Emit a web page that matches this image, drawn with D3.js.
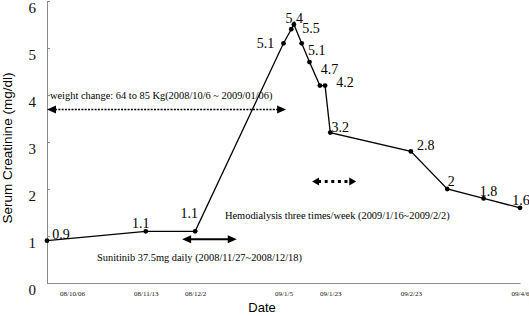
<!DOCTYPE html>
<html>
<head>
<meta charset="utf-8">
<script src="https://cdn.jsdelivr.net/npm/d3@7"></script>
<style>
  html, body { margin: 0; padding: 0; background: #fff; }
  svg { display: block; }
</style>
</head>
<body>
<div id="chart"></div>
<script>
// ── Data ─────────────────────────────────────────────
const obsDates = ["2008-10-06", "2008-11-13", "2008-12-02", "2009-01-05", "2009-01-08",
  "2009-01-09", "2009-01-12", "2009-01-15", "2009-01-19", "2009-01-21", "2009-01-23",
  "2009-02-23", "2009-03-09", "2009-03-23", "2009-04-06"];
const creatinine = [0.9, 1.1, 1.1, 5.1, 5.4, 5.5, 5.1, 4.7, 4.2, 4.2, 3.2, 2.8, 2, 1.8, 1.6];
const showLabel = [1, 1, 1, 1, 1, 1, 1, 1, 0, 1, 1, 1, 1, 1, 1];

const tickDates = ["2008-10-06", "2008-11-13", "2008-12-02", "2009-01-05", "2009-01-23", "2009-02-23", "2009-04-06"];
const tickLabels = ["08/10/06", "08/11/13", "08/12/2", "09/1/5", "09/1/23", "09/2/23", "09/4/6"];
const yTicks = [0, 1, 2, 3, 4, 5, 6];

// annotations: text, arrow span and level (in mg/dl)
const noteTexts = ["weight change: 64 to 85 Kg(2008/10/6 ~ 2009/01/06)",
  "Sunitinib 37.5mg daily (2008/11/27~2008/12/18)",
  "Hemodialysis three times/week (2009/1/16~2009/2/2)"];
const noteStart = ["2008-10-06", "2008-11-27", "2009-01-16"];
const noteEnd = ["2009-01-06", "2008-12-18", "2009-02-02"];
const noteArrowLevel = [3.69, 0.93, 2.16];
const noteTextLevel = [4.0, 0.55, 1.44];

// ── Layout / style (not data) ───────────────────────
const W = 529, H = 316;
const margin = { left: 47, top: 1, bottom: 33, right: 9 };
const labelOffsets = [[14, -7], [-5, -8], [-6, -18], [-18, 0], [3, -11], [17, 4], [15, 7],
  [20, 7], [0, 0], [20, -4], [10, -6], [15, -6], [4, -8], [5, -7], [1, -8]];
const noteTextX = [50, 97, 225];
const arrowStyle = [
  { width: 1.6, dash: "2,1.3", head: 9, half: 4 },
  { width: 2, dash: null, head: 9, half: 4 },
  { width: 3.2, dash: "3,3.6", head: 7, half: 4 }
];

const parse = d3.timeParse("%Y-%m-%d");
const serif = "'Liberation Serif', 'Times New Roman', serif";
const sans = "'Liberation Sans', Arial, sans-serif";

const svg = d3.select("#chart").append("svg")
  .attr("width", W).attr("height", H);

const x = d3.scaleTime()
  .domain([parse("2008-10-06"), parse("2009-04-06")])
  .range([margin.left, W - margin.right]);
const y = d3.scaleLinear().domain([0, 6]).range([H - margin.bottom, margin.top]);

// ── Axes ────────────────────────────────────────────
const yAxis = svg.append("g")
  .attr("transform", `translate(${margin.left},0)`)
  .call(d3.axisLeft(y).tickValues(yTicks).tickSize(-3).tickPadding(11).tickFormat(d3.format("d")));
yAxis.select(".domain").attr("stroke", "#8a8a8a");
yAxis.selectAll(".tick line").attr("stroke", "#8a8a8a");
yAxis.selectAll(".tick text")
  .attr("dy", "11.5px")
  .style("font-family", serif).style("font-size", "15px").attr("fill", "#111");

const xAxis = svg.append("g")
  .attr("transform", `translate(0,${y(0)})`)
  .call(d3.axisBottom(x).tickValues(tickDates.map(parse)).tickSize(0).tickPadding(8.5)
    .tickFormat((d, i) => tickLabels[i]));
xAxis.select(".domain").attr("stroke", "#8a8a8a").attr("stroke-width", 1.2);
xAxis.selectAll(".tick text")
  .style("font-family", serif).style("font-size", "7px").attr("fill", "#111")
  .attr("dx", (d, i) => i === 0 ? 25 : 0);

svg.append("text")
  .attr("x", 262).attr("y", 312)
  .attr("text-anchor", "middle")
  .style("font-family", sans).style("font-size", "13px")
  .text("Date");

svg.append("text")
  .attr("transform", `translate(12,${148}) rotate(-90)`)
  .attr("text-anchor", "middle")
  .style("font-family", sans).style("font-size", "13.5px")
  .text("Serum Creatinine (mg/dl)");

// ── Series ──────────────────────────────────────────
const pts = obsDates.map((d, i) => ({ date: parse(d), v: creatinine[i], i }));

svg.append("path")
  .datum(pts)
  .attr("fill", "none")
  .attr("stroke", "#000")
  .attr("stroke-width", 1.3)
  .attr("d", d3.line().x(d => x(d.date)).y(d => y(d.v)));

svg.selectAll(".dot").data(pts).join("circle")
  .attr("class", "dot")
  .attr("cx", d => x(d.date)).attr("cy", d => y(d.v))
  .attr("r", 2.4).attr("fill", "#000");

svg.selectAll(".vlabel").data(pts.filter(d => showLabel[d.i])).join("text")
  .attr("class", "vlabel")
  .attr("x", d => x(d.date) + labelOffsets[d.i][0])
  .attr("y", d => y(d.v) + labelOffsets[d.i][1])
  .attr("dy", "0.35em")
  .attr("text-anchor", "middle")
  .style("font-family", serif).style("font-size", "14px")
  .text(d => String(d.v));

// ── Annotations ─────────────────────────────────────
noteTexts.forEach((t, i) => {
  svg.append("text")
    .attr("x", noteTextX[i]).attr("y", y(noteTextLevel[i]))
    .attr("dy", "0.35em")
    .style("font-family", serif).style("font-size", "10.4px")
    .text(t);

  const s = arrowStyle[i];
  const x1 = x(parse(noteStart[i])), x2 = x(parse(noteEnd[i]));
  const ay = y(noteArrowLevel[i]);
  const ln = svg.append("line")
    .attr("x1", x1 + s.head - 1).attr("x2", x2 - s.head + 1)
    .attr("y1", ay).attr("y2", ay)
    .attr("stroke", "#000").attr("stroke-width", s.width);
  if (s.dash) ln.attr("stroke-dasharray", s.dash);

  svg.append("path")
    .attr("d", `M${x1},${ay}L${x1 + s.head},${ay - s.half}L${x1 + s.head},${ay + s.half}Z`)
    .attr("fill", "#000");
  svg.append("path")
    .attr("d", `M${x2},${ay}L${x2 - s.head},${ay - s.half}L${x2 - s.head},${ay + s.half}Z`)
    .attr("fill", "#000");
});
</script>
</body>
</html>
